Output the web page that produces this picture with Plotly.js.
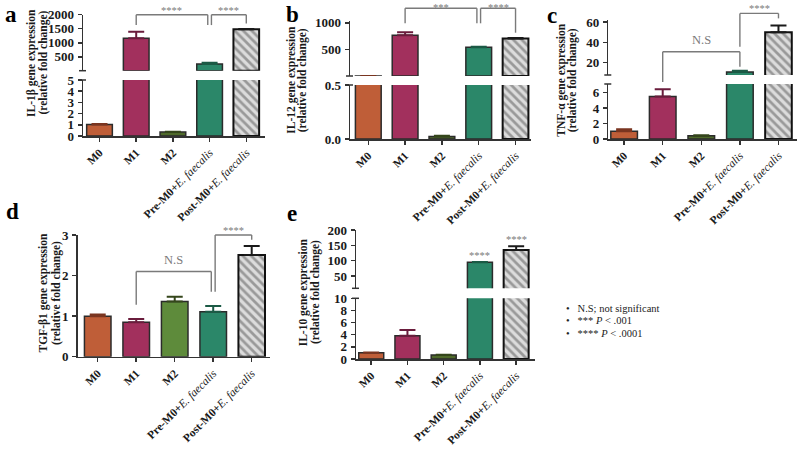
<!DOCTYPE html>
<html><head><meta charset="utf-8">
<script src="https://cdn.plot.ly/plotly-3.0.1.min.js"></script>
<style>html,body{margin:0;padding:0;background:#fff}</style>
</head><body><div id="chart" style="width:800px;height:449px"></div>
<script>
// ---------- data ----------
const categories = ['M0', 'M1', 'M2', 'Pre-M0+E. faecalis', 'Post-M0+E. faecalis'];
const tickText = ['M0', 'M1', 'M2',
  'Pre-M0+<i><span style="font-weight:normal">E. faecalis</span></i>',
  'Post-M0+<i><span style="font-weight:normal">E. faecalis</span></i>'];

const il1b    = [1.03, 1157, 0.35, 240, 1478];
const il1bErr = [0.05, 236, 0.03, 45, 15];
const il12    = [1.0, 768, 0.024, 543, 706];
const il12Err = [0.02, 56, 0.006, 5, 8];
const tnfa    = [1.0, 5.5, 0.43, 10.9, 49.9];
const tnfaErr = [0.25, 0.95, 0.05, 1.2, 6.7];
const tgfb1    = [1.0, 0.85, 1.36, 1.11, 2.51];
const tgfb1Err = [0.04, 0.08, 0.12, 0.14, 0.22];
const il10    = [1.04, 3.84, 0.66, 94.5, 135];
const il10Err = [0.05, 0.95, 0.05, 1.0, 12];

const panelLetters = ['a', 'b', 'c', 'd', 'e'];
const yTitles = ['IL-1β gene expression', 'IL-12 gene expression', 'TNF-α gene expression',
                 'TGF-β1 gene expression', 'IL-10 gene expression'];
const yTitle2 = '(relative fold change)';

// significance brackets: part index 0 = lower axis, 1 = upper axis
const brackets = [
  {panel: 0, x0: 1, x1: 2.95, top: [1, 2000], leg0: [1, 1630], leg1: [1, 1630], text: '****'},
  {panel: 0, x0: 3.05, x1: 4, top: [1, 2000], leg0: [1, 1630], leg1: [1, 1690], text: '****'},
  {panel: 1, x0: 1, x1: 2.95, top: [1, 1273], leg0: [1, 991], leg1: [1, 991], text: '***'},
  {panel: 1, x0: 3.05, x1: 4, top: [1, 1273], leg0: [1, 991], leg1: [1, 814], text: '****'},
  {panel: 2, x0: 1, x1: 3, top: [1, 30.8], leg0: [0, 7.4], leg1: [1, 16], text: 'N.S'},
  {panel: 2, x0: 3, x1: 4, top: [1, 68.5], leg0: [1, 35.7], leg1: [1, 63.6], text: '****'},
  {panel: 3, x0: 1, x1: 2.95, top: [0, 2.1], leg0: [0, 1.28], leg1: [0, 1.6], text: 'N.S'},
  {panel: 3, x0: 3.05, x1: 4, top: [0, 3.0], leg0: [0, 1.6], leg1: [0, 2.88], text: '****'}
];
const barStars = [{panel: 4, cat: 3, part: 1, text: '****'}, {panel: 4, cat: 4, part: 1, text: '****'}];

const legendLines = ['N.S; not significant', '*** <i>P</i> &lt; .001', '**** <i>P</i> &lt; .0001'];

// ---------- style / layout ----------
const W = 800, H = 449;
const SERIF = 'Liberation Serif, Times New Roman, serif';
const barColors = ['#BF5E38', '#A2305D', '#4F6A2B', '#2B8769', '#DCDCDC'];
const errColors = ['#7a3520', '#6a1c3c', '#34461b', '#1b5a45', '#1a1a1a'];
const m2ColorD = '#5E8B3B';

const panels = [
  {values: il1b, errors: il1bErr, xa: 'x', xDom: [83, 265], xRange: [-0.45, 4.51], bw: 0.70,
   parts: [{ya: 'y', dom: [80, 136], range: [0, 5], ticks: [0, 1, 2, 3, 4, 5]},
           {ya: 'y2', dom: [14.7, 70.7], range: [5, 2000], ticks: [500, 1000, 1500, 2000]}],
   titleX: [32, 43.5], titleY: 63, label: [11, 0, 'top']},
  {values: il12, errors: il12Err, xa: 'x2', xDom: [350, 531], xRange: [-0.497, 4.42], bw: 0.70,
   parts: [{ya: 'y3', dom: [85, 139], range: [0, 0.5], ticks: [0, 0.5], fmt: '.1f'},
           {ya: 'y4', dom: [20.7, 76], range: [0, 1040], ticks: [500, 1000]}],
   titleX: [291.7, 303.3], titleY: 80, label: [292, 0, 'top']},
  {values: tnfa, errors: tnfaErr, xa: 'x3', xDom: [608.3, 797], xRange: [-0.41, 4.48], bw: 0.69,
   parts: [{ya: 'y5', dom: [84, 139], range: [0, 7.13], ticks: [0, 2, 4, 6]},
           {ya: 'y6', dom: [20, 75], range: [7.9, 62], ticks: [20, 40, 60]}],
   titleX: [561.7, 573.3], titleY: 80, label: [552, 1, 'top']},
  {values: tgfb1, errors: tgfb1Err, xa: 'x4', xDom: [77.7, 270], xRange: [-0.52, 4.475], bw: 0.69,
   parts: [{ya: 'y7', dom: [235, 356.7], range: [0, 3], ticks: [0, 1, 2, 3]}],
   titleX: [42.5, 56], titleY: 293, label: [12, 226, 'bottom'], m2: m2ColorD},
  {values: il10, errors: il10Err, xa: 'x5', xDom: [356, 535], xRange: [-0.42, 4.52], bw: 0.69,
   parts: [{ya: 'y8', dom: [298.3, 359], range: [0, 10], ticks: [0, 2, 4, 6, 8, 10]},
           {ya: 'y9', dom: [230, 288.3], range: [10, 200], ticks: [50, 100, 150, 200]}],
   titleX: [303.3, 315], titleY: 292, label: [292, 228, 'bottom']}
];

function axKey(id) { return id[0] + 'axis' + id.slice(1); }
function yPaper(p, partIdx, v) {
  const part = panels[p].parts[partIdx];
  const t = part.dom[0], b = part.dom[1];
  const px = b - (v - part.range[0]) / (part.range[1] - part.range[0]) * (b - t);
  return 1 - px / H;
}
function pxY(px) { return 1 - px / H; }

const traces = [];
const layout = {
  width: W, height: H, margin: {l: 0, r: 0, t: 0, b: 0}, autosize: false,
  paper_bgcolor: '#fff', plot_bgcolor: 'rgba(0,0,0,0)', barmode: 'overlay', showlegend: false,
  annotations: [], shapes: []
};
const yTickFont = {family: SERIF, size: 13, color: '#1a1a1a', weight: 700};
const xTickFont = {family: SERIF, size: 11.5, color: '#1a1a1a', weight: 700};

panels.forEach((p, pi) => {
  layout[axKey(p.xa)] = {
    domain: [p.xDom[0] / W, p.xDom[1] / W], range: p.xRange, anchor: p.parts[0].ya,
    tickmode: 'array', tickvals: [0, 1, 2, 3, 4], ticktext: tickText, tickangle: -45,
    tickfont: xTickFont, showline: true, linecolor: '#333', linewidth: 1.5,
    ticks: 'outside', ticklen: 4, tickwidth: 1.5, tickcolor: '#333',
    showgrid: false, zeroline: false, fixedrange: true, automargin: false
  };
  p.parts.forEach((part, k) => {
    layout[axKey(part.ya)] = {
      domain: [1 - part.dom[1] / H, 1 - part.dom[0] / H], range: part.range, anchor: p.xa,
      tickmode: 'array', tickvals: part.ticks, tickformat: part.fmt || '',
      tickfont: yTickFont, showline: true, linecolor: '#333', linewidth: 1.5,
      ticks: 'outside', ticklen: 4, tickwidth: 1.5, tickcolor: '#333', ticklabelstandoff: 1,
      showgrid: false, zeroline: false, fixedrange: true, automargin: false
    };
    const span = part.range[1] - part.range[0];
    categories.forEach((c, i) => {
      // upper segment only shows bars that reach it
      if (k === 1 && p.values[i] < part.range[0] + span * 0.0005) return;
      let col = barColors[i];
      if (i === 2 && p.m2) col = p.m2;
      const marker = {color: col, line: {color: i === 4 ? '#111' : '#2b2b2b', width: i === 4 ? 2 : 1.5}};
      if (i === 4) marker.pattern = {shape: '\\', fgcolor: '#555', size: 6, solidity: 0.45, fillmode: 'overlay'};
      traces.push({
        type: 'bar', x: [i], y: [p.values[i]], width: [p.bw], name: c,
        xaxis: p.xa, yaxis: part.ya, marker: marker, hoverinfo: 'skip',
        error_y: {type: 'data', symmetric: false, array: [p.errors[i]], arrayminus: [0],
                  color: errColors[i], thickness: 2, width: 8}
      });
    });
  });
  // axis-break marks
  if (p.parts.length > 1) {
    const L = p.xDom[0];
    [p.parts[1].dom[1], p.parts[0].dom[0]].forEach(yy => {
      layout.shapes.push({type: 'line', xref: 'paper', yref: 'paper',
        x0: (L - 4) / W, x1: (L + 3) / W, y0: pxY(yy), y1: pxY(yy),
        line: {color: '#333', width: 1.5}});
    });
  }
  // panel letter
  layout.annotations.push({xref: 'paper', yref: 'paper', x: p.label[0] / W, y: pxY(p.label[1]),
    xanchor: 'center', yanchor: p.label[2], showarrow: false, text: panelLetters[pi],
    font: {family: SERIF, size: 23, color: '#000', weight: 700}});
  // y title, one annotation per line
  [yTitles[pi], yTitle2].forEach((t, li) => {
    layout.annotations.push({xref: 'paper', yref: 'paper', x: p.titleX[li] / W, y: pxY(p.titleY),
      xanchor: 'center', yanchor: 'middle', showarrow: false, textangle: -90, text: t,
      font: {family: SERIF, size: 11.5, color: '#1a1a1a', weight: 700}});
  });
});

// brackets
brackets.forEach(b => {
  const p = panels[b.panel];
  const yt = yPaper(b.panel, b.top[0], b.top[1]);
  const y0 = yPaper(b.panel, b.leg0[0], b.leg0[1]);
  const y1 = yPaper(b.panel, b.leg1[0], b.leg1[1]);
  const ln = {color: '#7a7a7a', width: 1.4};
  layout.shapes.push({type: 'line', xref: p.xa, yref: 'paper', x0: b.x0, x1: b.x1, y0: yt, y1: yt, line: ln});
  layout.shapes.push({type: 'line', xref: p.xa, yref: 'paper', x0: b.x0, x1: b.x0, y0: yt, y1: y0, line: ln});
  layout.shapes.push({type: 'line', xref: p.xa, yref: 'paper', x0: b.x1, x1: b.x1, y0: yt, y1: y1, line: ln});
  const isNS = b.text === 'N.S';
  if (isNS) {
    layout.annotations.push({xref: p.xa, yref: 'paper', x: (b.x0 + b.x1) / 2, y: yt,
      xanchor: 'center', yanchor: 'bottom', yshift: 3, showarrow: false, text: b.text,
      font: {family: SERIF, size: 12.5, color: '#7a7a7a'}});
  } else {
    // star glyphs sit high in their box: hang the box just above the bracket, never above the page
    const topPx = (1 - yt) * H;
    layout.annotations.push({xref: p.xa, yref: 'paper', x: (b.x0 + b.x1) / 2,
      y: pxY(Math.max(0.5, topPx - 12)),
      xanchor: 'center', yanchor: 'top', showarrow: false, text: b.text,
      font: {family: SERIF, size: 10.5, color: '#7a7a7a'}});
  }
});
barStars.forEach(s => {
  const p = panels[s.panel];
  layout.annotations.push({xref: p.xa, yref: p.parts[s.part].ya, x: s.cat,
    y: p.values[s.cat] + p.errors[s.cat], xanchor: 'center', yanchor: 'bottom', yshift: -1,
    showarrow: false, text: s.text, font: {family: SERIF, size: 10.5, color: '#7a7a7a'}});
});

// legend notes
legendLines.forEach((t, i) => {
  const yy = [308.3, 320.8, 333.3][i];
  layout.annotations.push({xref: 'paper', yref: 'paper', x: 564 / W, y: pxY(yy),
    xanchor: 'left', yanchor: 'middle', showarrow: false, text: '•   ' + t,
    font: {family: SERIF, size: 10.5, color: '#222'}});
});

Plotly.newPlot('chart', traces, layout, {staticPlot: true, displayModeBar: false});
</script></body></html>
